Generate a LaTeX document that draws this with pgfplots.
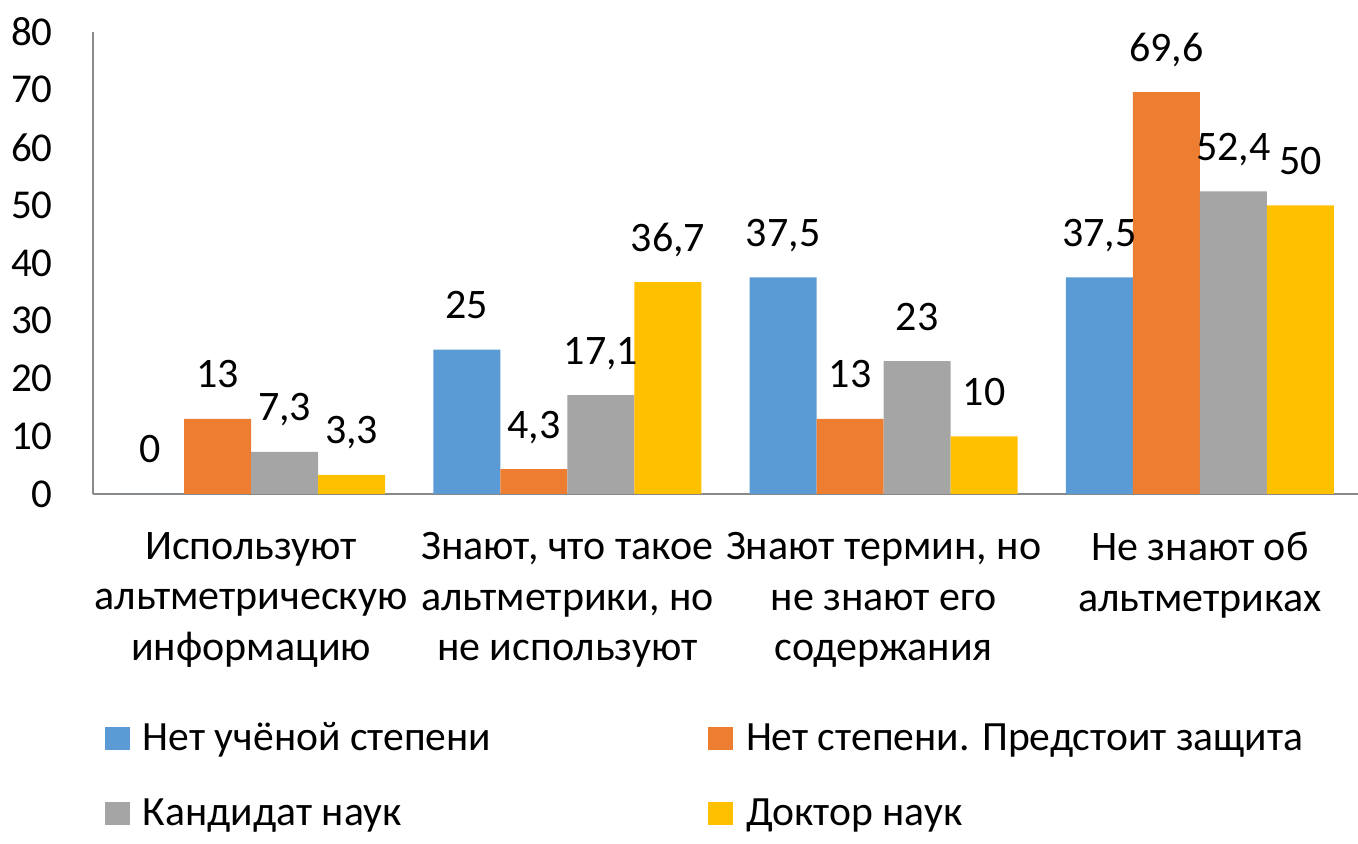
\documentclass[border=0pt]{standalone}
\usepackage{pgfplots}
\pgfplotsset{compat=1.18}
\usepackage{fontspec}
\setmainfont{Carlito}
\definecolor{cblue}{HTML}{5B9BD5}
\definecolor{corange}{HTML}{ED7D31}
\definecolor{cgray}{HTML}{A5A5A5}
\definecolor{cyellow}{HTML}{FFC000}
\definecolor{axgray}{HTML}{898989}
\begin{document}
\begin{tikzpicture}
\path[use as bounding box] (-46.5pt,-175pt) rectangle (632.5pt,247pt);
\begin{axis}[
  at={(0,0)}, anchor=south west,
  scale only axis, width=632.5pt, height=231pt,
  ybar=0pt, bar width=33.5pt,
  xmin=-0.5, xmax=3.5, ymin=0, ymax=80,
  ytick={0,10,...,80},
  xtick={0,1,2,3},
  xticklabels={{Используют\\альтметрическую\\информацию},{Знают, что такое\\альтметрики, но\\не используют},{Знают термин, но\\не знают его\\содержания},{Не знают об\\альтметриках}},
  axis x line*=bottom, axis y line*=left,
  axis line style={draw=axgray, line width=1pt, -},
  major tick length=0pt,
  tick style={draw=none},
  clip=false,
  font=\fontsize{21pt}{25.25pt}\selectfont,
  /pgf/number format/.cd, use comma, assume math mode=true,
  /pgfplots/.cd,
  yticklabel style={anchor=east, inner sep=0pt, xshift=-20pt, font=\fontsize{20.5pt}{24pt}\selectfont},
  xticklabel style={anchor=north, align=center, inner sep=0pt, yshift=-19pt, font=\fontsize{21pt}{25.25pt}\selectfont},
  nodes near coords,
  every node near coord/.append style={anchor=base, yshift=15.5pt, inner sep=0pt, font=\fontsize{21pt}{24pt}\selectfont, text=black},
  legend columns=2,
  legend image code/.code={\fill[#1] (0pt,0pt) rectangle (12.5pt,11.5pt);},
  legend style={at={(axis description cs:0,0)}, anchor=north west, xshift=6pt, yshift=-115pt,
    draw=none, inner sep=0pt, outer sep=0pt, font=\fontsize{20.8pt}{24pt}\selectfont,
    nodes={inner sep=0pt, text height=13pt, text depth=4pt, anchor=base west},
    /tikz/every odd column/.style={column sep=6.5pt},
    row sep=20.5pt},
]
\addplot[fill=cblue, draw=none] coordinates {(0,0) (1,25) (2,37.5) (3,37.5)};
\addplot[fill=corange, draw=none] coordinates {(0,13) (1,4.3) (2,13) (3,69.6)};
\addplot[fill=cgray, draw=none] coordinates {(0,7.3) (1,17.1) (2,23) (3,52.4)};
\addplot[fill=cyellow, draw=none] coordinates {(0,3.3) (1,36.7) (2,10) (3,50)};
\legend{\makebox[282.5pt][l]{Нет учёной степени},Нет степени. Предстоит защита,\makebox[282.5pt][l]{Кандидат наук},Доктор наук}
\end{axis}
\end{tikzpicture}
\end{document}
